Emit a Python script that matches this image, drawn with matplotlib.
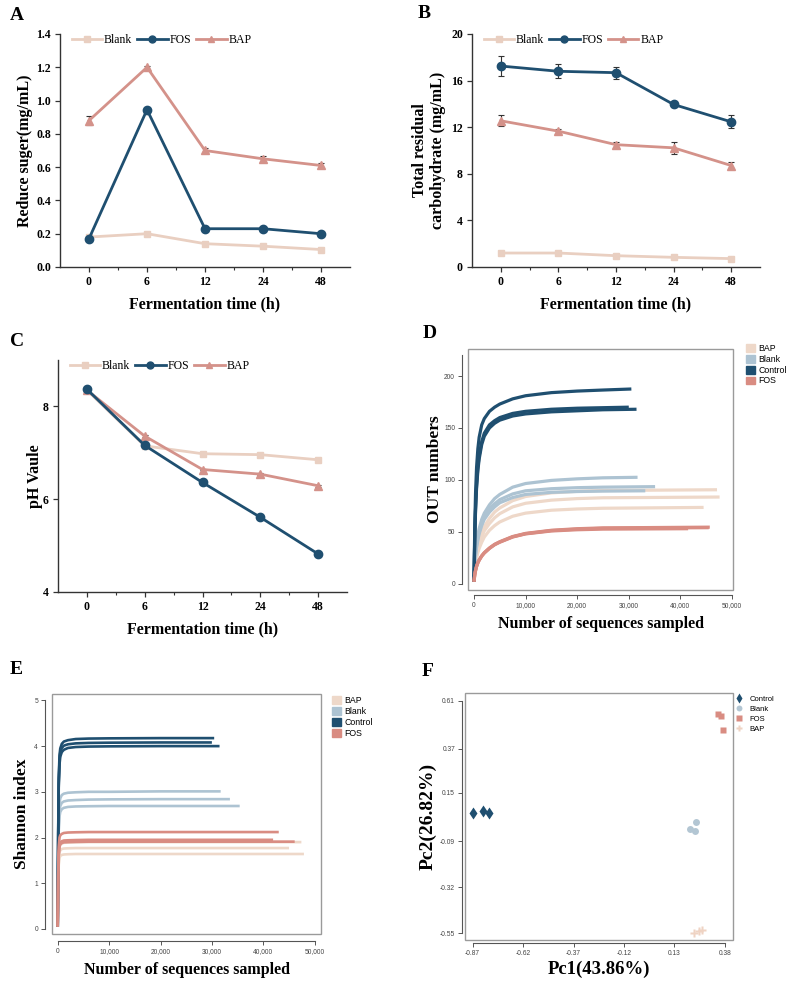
import matplotlib
matplotlib.use("Agg")
import matplotlib.pyplot as plt
from matplotlib.patches import Rectangle, Patch
from matplotlib.lines import Line2D
import numpy as np

SERIF = ['Liberation Serif', 'DejaVu Serif']
SANS = ['Liberation Sans', 'DejaVu Sans']
plt.rcParams['font.family'] = SERIF

# ---------------- data: panels A-C ----------------
times = ['0', '6', '12', '24', '48']
groups_abc = ['Blank', 'FOS', 'BAP']

sugar_blank = [0.18, 0.20, 0.14, 0.125, 0.105]
sugar_fos = [0.17, 0.945, 0.23, 0.23, 0.20]
sugar_bap = [0.88, 1.20, 0.70, 0.65, 0.61]
sugar_blank_err = [0.01, 0.012, 0.01, 0.01, 0.012]
sugar_fos_err = [0.01, 0.01, 0.01, 0.01, 0.01]
sugar_bap_err = [0.025, 0.01, 0.015, 0.018, 0.015]

carb_blank = [1.2, 1.2, 0.97, 0.83, 0.72]
carb_fos = [17.25, 16.8, 16.68, 13.95, 12.46]
carb_bap = [12.55, 11.66, 10.5, 10.23, 8.71]
carb_blank_err = [0.15, 0.15, 0.12, 0.12, 0.12]
carb_fos_err = [0.85, 0.6, 0.5, 0.25, 0.55]
carb_bap_err = [0.47, 0.2, 0.25, 0.5, 0.33]

ph_blank = [8.35, 7.15, 6.98, 6.96, 6.85]
ph_fos = [8.37, 7.16, 6.36, 5.61, 4.82]
ph_bap = [8.35, 7.36, 6.64, 6.54, 6.29]
ph_blank_err = [0.03, 0.03, 0.03, 0.03, 0.03]
ph_fos_err = [0.02, 0.02, 0.02, 0.02, 0.02]
ph_bap_err = [0.02, 0.02, 0.02, 0.02, 0.02]

# ---------------- data: panel D (observed OTUs rarefaction) ----------------
d_x = [0, 150, 300, 500, 750, 1000, 1500, 2000, 3000, 4000, 5000, 7500, 10000, 15000, 20000, 25000]
d_groups = ['BAP', 'Blank', 'Control', 'FOS']
d_curves = {
    'BAP': [
        ([3, 15, 22, 29, 36, 41, 49, 55, 63, 69, 73, 80, 84, 87.5, 89, 89.8, 90.5], 47100),
        ([3, 14, 20.5, 27, 33, 38, 45, 51, 58, 63.5, 67.5, 74, 77.5, 80.5, 82, 82.8, 83.5], 47600),
        ([3, 13, 19, 25, 30, 34, 40, 45, 51.5, 56, 59.5, 65, 68, 70.8, 72, 72.7, 73.5], 44500),
    ],
    'Blank': [
        ([3, 20, 30, 39, 47, 53, 62, 68, 76, 82, 86, 93, 96.5, 99.5, 101, 102, 102.5], 31700),
        ([3, 19, 28, 37, 44, 50, 58, 64, 72, 77, 81, 86.5, 89.5, 91.5, 92.5, 93, 93.5], 35100),
        ([3, 18, 27, 35, 42, 48, 56, 62, 69, 74, 78, 83, 86, 88, 88.8, 89.2, 89.5], 33200),
    ],
    'Control': [
        ([2, 55, 87, 112, 130, 141, 153, 159, 166, 170, 173, 178, 181, 184, 185.5, 186.5, 187.5], 30500),
        ([2, 45, 72, 95, 112, 123, 137, 145, 153, 157, 160, 164, 166, 168, 169, 169.5, 170], 30000),
        ([2, 43, 70, 92, 109, 120, 134, 142, 150, 154.5, 157.5, 161.5, 163.5, 165.5, 166.5, 167.5, 168], 31500),
    ],
    'FOS': [
        ([2, 9, 13, 17, 20.5, 23, 27, 30, 34.5, 38, 40.5, 45.5, 48.5, 51.5, 53, 53.8, 54.5], 45700),
        ([2, 8.5, 12.5, 16.5, 20, 22.5, 26.5, 29.5, 34, 37.5, 40, 45, 48, 50.8, 52, 52.6, 53], 41500),
        ([2, 8.8, 12.8, 16.8, 20.2, 22.8, 26.8, 29.8, 34.2, 37.8, 40.2, 45.2, 48.2, 51.2, 52.6, 53.4, 54], 45500),
    ],
}

# ---------------- data: panel E (Shannon rarefaction) ----------------
e_x = [0, 100, 200, 350, 500, 800, 1200, 2000, 3500, 6000, 10000, 20000]
e_curves = {
    'BAP': [
        ([0.05, 1.15, 1.6, 1.79, 1.84, 1.87, 1.885, 1.89, 1.895, 1.9, 1.9, 1.9, 1.9], 47400),
        ([0.05, 1.05, 1.5, 1.67, 1.72, 1.75, 1.76, 1.765, 1.77, 1.77, 1.77, 1.77, 1.77], 45000),
        ([0.05, 1.0, 1.4, 1.55, 1.6, 1.62, 1.63, 1.635, 1.64, 1.64, 1.64, 1.64, 1.64], 47900),
    ],
    'Blank': [
        ([0.05, 1.6, 2.4, 2.75, 2.86, 2.93, 2.96, 2.98, 2.99, 3.0, 3.0, 3.01, 3.01], 31700),
        ([0.05, 1.5, 2.25, 2.58, 2.69, 2.76, 2.79, 2.81, 2.82, 2.83, 2.835, 2.84, 2.84], 33500),
        ([0.05, 1.45, 2.15, 2.46, 2.56, 2.62, 2.65, 2.67, 2.68, 2.685, 2.69, 2.69, 2.69], 35400),
    ],
    'Control': [
        ([0.05, 2.2, 3.3, 3.8, 3.95, 4.05, 4.1, 4.13, 4.155, 4.165, 4.17, 4.175, 4.175], 30440),
        ([0.05, 2.1, 3.2, 3.7, 3.86, 3.96, 4.01, 4.04, 4.06, 4.07, 4.075, 4.08, 4.08], 29990),
        ([0.05, 2.0, 3.1, 3.6, 3.77, 3.87, 3.92, 3.96, 3.98, 3.99, 3.995, 4.0, 4.0], 31480),
    ],
    'FOS': [
        ([0.05, 1.3, 1.8, 2.0, 2.05, 2.08, 2.1, 2.11, 2.115, 2.12, 2.12, 2.12, 2.12], 43000),
        ([0.05, 1.2, 1.65, 1.84, 1.89, 1.92, 1.935, 1.94, 1.945, 1.95, 1.95, 1.95, 1.95], 41900),
        ([0.05, 1.15, 1.6, 1.8, 1.85, 1.88, 1.895, 1.9, 1.905, 1.91, 1.91, 1.91, 1.91], 46100),
    ],
}

# ---------------- data: panel F (PCoA) ----------------
f_groups = ['Control', 'Blank', 'FOS', 'BAP']
f_pc1 = {'Control': [-0.87, -0.817, -0.789],
         'Blank': [0.235, 0.207, 0.23],
         'FOS': [0.344, 0.359, 0.368],
         'BAP': [0.228, 0.251, 0.264]}
f_pc2 = {'Control': [0.052, 0.061, 0.05],
         'Blank': [0.003, -0.03, -0.04],
         'FOS': [0.543, 0.535, 0.462],
         'BAP': [-0.547, -0.538, -0.532]}
f_xticks = [-0.87, -0.62, -0.37, -0.12, 0.13, 0.38]
f_yticks = [-0.55, -0.32, -0.09, 0.15, 0.37, 0.61]

# ---------------- styles ----------------
C_BLANK = '#e9cfc1'
C_FOS = '#1f4f70'
C_BAP = '#d4928a'
seq_colors = {'BAP': '#eed8c9', 'Blank': '#adc3d2', 'Control': '#1f4f70', 'FOS': '#d98c82'}

W, H = 789, 982
fig = plt.figure(figsize=(W / 100, H / 100), dpi=100)


def ax_px(l, t, r, b):
    return fig.add_axes([l / W, 1 - b / H, (r - l) / W, (b - t) / H])


def line_panel(ax, blank, fos, bap, eb, ef, ea, ylim, yticks, yfmt, ylabel, legend_anchor, ypad):
    x = np.arange(len(times))
    kw = dict(lw=2.0, capsize=2.2, elinewidth=0.8, ecolor='#333333', capthick=0.8)
    ax.errorbar(x, blank, yerr=eb, color=C_BLANK, marker='s', ms=5, mec=C_BLANK, label='Blank', **kw)
    ax.errorbar(x, bap, yerr=ea, color=C_BAP, marker='^', ms=5.5, mec=C_BAP, label='BAP', **kw)
    ax.errorbar(x, fos, yerr=ef, color=C_FOS, marker='o', ms=6, mec=C_FOS, label='FOS', **kw)
    ax.set_xlim(-0.5, 4.5)
    ax.set_ylim(*ylim)
    ax.set_xticks(x)
    ax.set_xticklabels(times)
    ax.set_xticks([0.5, 1.5, 2.5, 3.5], minor=True)
    ax.set_yticks(yticks)
    ax.set_yticklabels([yfmt.format(v) for v in yticks])
    for s in ['top', 'right']:
        ax.spines[s].set_visible(False)
    for s in ['left', 'bottom']:
        ax.spines[s].set_color('#333333')
        ax.spines[s].set_linewidth(1.0)
    ax.tick_params(which='major', direction='out', length=3.5, width=0.9, color='#333333',
                   labelsize=8.5, pad=3)
    ax.tick_params(which='minor', direction='out', length=2, width=0.8, color='#333333')
    for lab in ax.get_xticklabels() + ax.get_yticklabels():
        lab.set_fontweight('bold')
    ax.set_xlabel('Fermentation time (h)', fontsize=11.5, fontweight='bold', labelpad=6)
    ax.set_ylabel(ylabel, fontsize=11.5, fontweight='bold', labelpad=ypad, linespacing=1.1)
    handles = [Line2D([], [], color=C_BLANK, marker='s', ms=4, lw=2.0),
               Line2D([], [], color=C_FOS, marker='o', ms=5, lw=2.0),
               Line2D([], [], color=C_BAP, marker='^', ms=4.5, lw=2.0)]
    ax.legend(handles, groups_abc, loc='upper left', bbox_to_anchor=legend_anchor, ncol=3,
              frameon=False, fontsize=8.5, handlelength=2.6, handletextpad=0.15,
              columnspacing=0.4, borderaxespad=0, borderpad=0)


axA = ax_px(60, 34, 350, 267)
line_panel(axA, sugar_blank, sugar_fos, sugar_bap, sugar_blank_err, sugar_fos_err, sugar_bap_err,
           (0, 1.4), [0, 0.2, 0.4, 0.6, 0.8, 1.0, 1.2, 1.4], '{:.1f}', 'Reduce suger(mg/mL)',
           (0.04, 1.0), 2)

axB = ax_px(472, 34, 760, 267)
line_panel(axB, carb_blank, carb_fos, carb_bap, carb_blank_err, carb_fos_err, carb_bap_err,
           (0, 20), [0, 4, 8, 12, 16, 20], '{:d}', 'Total residual\ncarbohydrate (mg/mL)',
           (0.04, 1.0), 4)

axC = ax_px(58, 360, 347, 592)
line_panel(axC, ph_blank, ph_fos, ph_bap, ph_blank_err, ph_fos_err, ph_bap_err,
           (4, 9), [4, 6, 8], '{:d}', 'pH Vaule', (0.04, 1.0), 0)


def box_panel(ax, out_left, out_bottom):
    for s in ['top', 'right']:
        ax.spines[s].set_visible(False)
    ax.spines['left'].set_position(('outward', out_left))
    ax.spines['bottom'].set_position(('outward', out_bottom))
    for s in ['left', 'bottom']:
        ax.spines[s].set_color('#555555')
        ax.spines[s].set_linewidth(0.8)
    ax.add_patch(Rectangle((0, 0), 1, 1, transform=ax.transAxes, fill=False,
                           edgecolor='#9a9a9a', lw=1.0, clip_on=False, zorder=5))
    ax.tick_params(direction='out', length=3, width=0.7, color='#555555',
                   labelsize=4.8, labelcolor='#444444', pad=2)
    for lab in ax.get_xticklabels() + ax.get_yticklabels():
        lab.set_fontfamily(SANS)


# ---- D ----
axD = ax_px(468, 349, 733, 590)
for g in d_groups:
    for ys, xend in d_curves[g]:
        axD.plot(d_x + [xend], ys, color=seq_colors[g], lw=2.3, solid_capstyle='butt')
axD.set_xlim(-1160, 50200)
axD.set_ylim(-6, 226)
axD.set_xticks([0, 10000, 20000, 30000, 40000, 50000])
axD.set_xticklabels(['0', '10,000', '20,000', '30,000', '40,000', '50,000'])
axD.set_yticks([0, 50, 100, 150, 200])
axD.spines['left'].set_bounds(0, 220)
axD.spines['bottom'].set_bounds(0, 50000)
box_panel(axD, 4.3, 3.6)
axD.set_ylabel('OUT numbers', fontsize=12.5, fontweight='bold', labelpad=1)
axD.set_xlabel('Number of sequences sampled', fontsize=11.5, fontweight='bold', labelpad=5)
axD.legend([Patch(color=seq_colors[g]) for g in d_groups], d_groups, loc='upper left',
           bbox_to_anchor=(1.05, 1.02), frameon=False, prop={'family': SANS, 'size': 6.3},
           handlelength=1.0, handleheight=1.0, handletextpad=0.4, labelspacing=0.2,
           borderaxespad=0, borderpad=0)

# ---- E ----
axE = ax_px(52, 694, 321, 934)
for g in d_groups:
    for ys, xend in e_curves[g]:
        axE.plot(e_x + [xend], ys, color=seq_colors[g], lw=1.9, solid_capstyle='butt')
axE.set_xlim(-1110, 51220)
axE.set_ylim(-0.11, 5.14)
axE.set_xticks([0, 10000, 20000, 30000, 40000, 50000])
axE.set_xticklabels(['0', '10,000', '20,000', '30,000', '40,000', '50,000'])
axE.set_yticks([0, 1, 2, 3, 4, 5])
axE.spines['left'].set_bounds(0, 5)
axE.spines['bottom'].set_bounds(0, 50000)
box_panel(axE, 5.0, 4.8)
axE.set_ylabel('Shannon index', fontsize=12.5, fontweight='bold', labelpad=3)
axE.set_xlabel('Number of sequences sampled', fontsize=11.5, fontweight='bold', labelpad=5)
axE.legend([Patch(color=seq_colors[g]) for g in d_groups], d_groups, loc='upper left',
           bbox_to_anchor=(1.04, 0.99), frameon=False, prop={'family': SANS, 'size': 6.3},
           handlelength=1.0, handleheight=1.0, handletextpad=0.4, labelspacing=0.2,
           borderaxespad=0, borderpad=0)

# ---- F ----
axF = ax_px(465, 693, 733, 940)
f_markers = {'Control': ('d', 6.5), 'Blank': ('o', 5), 'FOS': ('s', 4.5), 'BAP': ('P', 5.5)}
f_colors = {'Control': '#1f4f70', 'Blank': '#b3c6d3', 'FOS': '#d98c82', 'BAP': '#efd3c3'}
for g in f_groups:
    m, s = f_markers[g]
    axF.plot(f_pc1[g], f_pc2[g], ls='none', marker=m, ms=s, color=f_colors[g], mec='none')
axF.set_xlim(-0.908, 0.42)
axF.set_ylim(-0.583, 0.648)
axF.set_xticks(f_xticks)
axF.set_xticklabels(['{:.2f}'.format(v) for v in f_xticks])
axF.set_yticks(f_yticks)
axF.set_yticklabels(['{:.2f}'.format(v) for v in f_yticks])
axF.spines['left'].set_bounds(-0.55, 0.61)
axF.spines['bottom'].set_bounds(-0.87, 0.38)
box_panel(axF, 2.2, 2.2)
axF.set_ylabel('Pc2(26.82%)', fontsize=14, fontweight='bold', labelpad=2)
axF.set_xlabel('Pc1(43.86%)', fontsize=13.5, fontweight='bold', labelpad=3)
f_handles = [Line2D([], [], ls='none', marker=f_markers[g][0], ms=f_markers[g][1] * 0.85,
                    color=f_colors[g], mec='none') for g in f_groups]
axF.legend(f_handles, f_groups, loc='upper left', bbox_to_anchor=(1.01, 0.99), frameon=False,
           prop={'family': SANS, 'size': 5.5}, handlelength=1.0, handletextpad=0.8,
           labelspacing=0.35, borderaxespad=0, borderpad=0)

# ---- panel letters ----
for letter, x, y in [('A', 10, 16), ('B', 418, 14), ('C', 10, 341), ('D', 423, 333),
                     ('E', 10, 670), ('F', 422, 672)]:
    fig.text(x / W, 1 - y / H, letter, fontsize=14, fontweight='bold', ha='left', va='center')

fig.savefig('out.png', dpi=100)
